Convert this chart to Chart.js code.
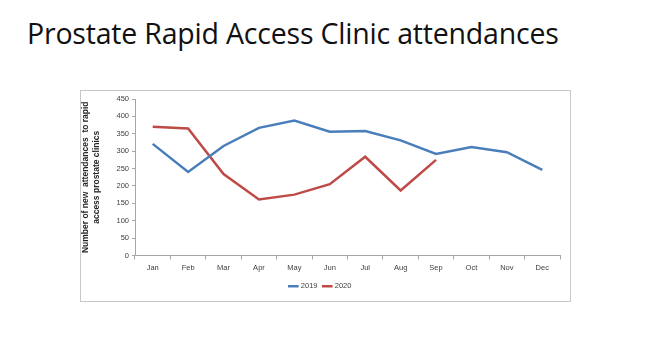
<!DOCTYPE html>
<html><head><meta charset="utf-8">
<script src="https://cdn.jsdelivr.net/npm/chart.js@4/dist/chart.umd.min.js"></script>
<style>
html,body{margin:0;padding:0;background:#fff;width:650px;height:352px;overflow:hidden;}
#title{position:absolute;left:27px;top:14px;font-family:"Open Sans",sans-serif;font-size:28.5px;color:#111;white-space:nowrap;letter-spacing:-0.2px;}
#frame{position:absolute;left:80px;top:90px;width:489px;height:210px;border:1px solid #c8c8c8;background:#fff;}
#c{position:absolute;left:0;top:0;}
</style></head><body>
<div id="title">Prostate Rapid Access Clinic attendances</div>
<div id="frame"><canvas id="c" width="489" height="210"></canvas></div>
<script>
const months = ["Jan","Feb","Mar","Apr","May","Jun","Jul","Aug","Sep","Oct","Nov","Dec"];
const values2019 = [321,240,315,367,388,356,358,331,292,312,297,246];
const values2020 = [370,365,234,161,175,205,284,187,275,null,null,null];
const yTicks = [0,50,100,150,200,250,300,350,400,450];
const yTitle = ["Number of new  attendances  to rapid","access prostate clinics"];

new Chart(document.getElementById('c'), {
  type:'line',
  data:{labels:months,datasets:[
    {label:'2019',data:values2019,borderColor:'#4a7ebb',backgroundColor:'#4a7ebb',borderWidth:2.5,pointRadius:0,tension:0},
    {label:'2020',data:values2020,borderColor:'#be4b48',backgroundColor:'#be4b48',borderWidth:2.5,pointRadius:0,tension:0,spanGaps:false}
  ]},
  options:{
    responsive:false,animation:false,
    layout:{padding:{left:0,right:10,top:8,bottom:1}},
    plugins:{
      legend:{position:'bottom',labels:{usePointStyle:true,pointStyle:'line',boxWidth:24,padding:6,font:{family:'"Liberation Sans",sans-serif',size:7.5},color:'#404040',
        generateLabels:(ch)=>ch.data.datasets.map((d,i)=>({text:d.label,strokeStyle:d.borderColor,fillStyle:d.borderColor,lineWidth:2.5,pointStyle:'line',datasetIndex:i,fontColor:'#404040'}))}},
      tooltip:{enabled:false}
    },
    scales:{
      x:{offset:true,
        grid:{drawOnChartArea:false,drawTicks:true,tickLength:4,color:'#a6a6a6',offset:true},
        border:{color:'#a6a6a6'},
        ticks:{font:{family:'"Liberation Sans",sans-serif',size:7.5},color:'#404040',padding:4,maxRotation:0,autoSkip:false}},
      y:{min:0,max:450,
        afterBuildTicks:(s)=>{s.ticks=yTicks.map(v=>({value:v}));},
        afterFit:(s)=>{s.width=54;},
        grid:{drawOnChartArea:false,drawTicks:true,tickLength:3,color:'#a6a6a6'},
        border:{color:'#a6a6a6'},
        ticks:{font:{family:'"Liberation Sans",sans-serif',size:7.5},color:'#404040',padding:3},
        title:{display:true,text:yTitle,font:{family:'"Liberation Sans",sans-serif',size:8.5,weight:'bold'},color:'#262626',padding:{top:0,bottom:1},}
      }
    }
  }
});
</script>
</body></html>
